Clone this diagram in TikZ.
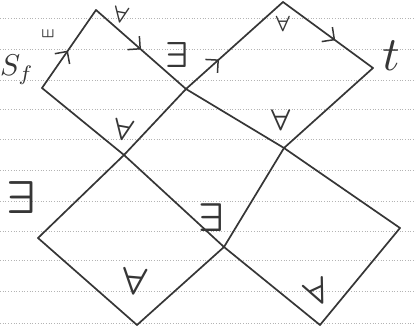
\documentclass[tikz,border=0pt]{standalone}
\usetikzlibrary{arrows.meta,decorations.markings}
\definecolor{ink}{HTML}{363636}
\definecolor{rulegray}{HTML}{B4B4B4}
\begin{document}
\begin{tikzpicture}[x=1pt,y=-1pt,
  edge/.style={draw=ink, line width=1.7pt, line cap=round, line join=round},
  midarrow/.style={postaction={decorate}, decoration={markings, mark=at position #1 with {\arrow{Straight Barb[length=9pt,width=18pt,line width=1.5pt]}}}},
  ruled/.style={draw=rulegray, dotted, line width=0.7pt},
  lab/.style={inner sep=0pt, text=ink, font=\boldmath},
  letter/.style={inner sep=0pt, text=ink}]
\useasboundingbox (0,0) rectangle (416,328);
\fill[white] (0,0) rectangle (416,328);
% ruled paper
\foreach \yy in {18,49,80,109,139,170,201,231,260,291,323}
  \draw[ruled] (0,\yy) -- (416,\yy);
% vertices
\coordinate (A) at (42,88);
\coordinate (B) at (96,10);
\coordinate (C) at (186,89);
\coordinate (T) at (283,2);
\coordinate (R) at (373,68);
\coordinate (D) at (124,155);
\coordinate (F) at (284,148);
\coordinate (G) at (400,228);
\coordinate (E) at (224,247);
\coordinate (Q) at (320,325);
\coordinate (L) at (38,238);
\coordinate (H) at (137,325);
% edges
\draw[edge, midarrow=0.48] (A) -- (B);
\draw[edge, midarrow=0.5] (B) -- (C);
\draw[edge, midarrow=0.34] (C) -- (T);
\draw[edge, midarrow=0.58] (T) -- (R);
\draw[edge] (C) -- (F) -- (G);
\draw[edge] (R) -- (F) -- (E) -- (H);
\draw[edge] (A) -- (D) -- (E) -- (Q);
\draw[edge] (C) -- (D) -- (L);
\draw[edge] (L) -- (H);
\draw[edge] (G) -- (Q);
% labels
\node[letter, scale=3.0] (sf) at (17,70) {$S_{f}$};
\node[letter, scale=4.8] (t) at (391,56) {$t$};
\node[lab, scale=1.6, rotate=-90] (e0) at (48,34) {$\exists$};
\node[lab, scale=2.3, rotate=-10] (a1) at (121,15) {$\forall$};
\node[lab, scale=3.6] (e1) at (177,55) {$\exists$};
\node[lab, scale=2.2] (a2) at (283,24) {$\forall$};
\node[lab, scale=3.0, rotate=-10] (a3) at (124,130) {$\forall$};
\node[lab, scale=3.0] (a4) at (281,120) {$\forall$};
\node[lab, scale=4.6] (e2) at (21,198) {$\exists$};
\node[lab, scale=4.0] (e3) at (211,218) {$\exists$};
\node[lab, scale=3.8, rotate=-5] (a5) at (135,281) {$\forall$};
\node[lab, scale=3.6, rotate=25] (a6) at (318,292) {$\forall$};
\end{tikzpicture}
\end{document}
